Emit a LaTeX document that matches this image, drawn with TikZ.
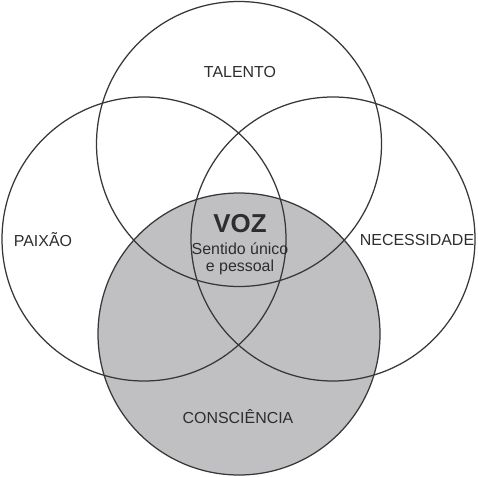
\documentclass[tikz,border=0pt]{standalone}
\usepackage{fontspec}
\setmainfont{Liberation Sans}
\definecolor{ringline}{RGB}{55,55,55}
\definecolor{ringfill}{RGB}{192,192,194}
\definecolor{txt}{RGB}{45,45,45}
\begin{document}
\begin{tikzpicture}[x=1bp,y=-1bp,
  ring/.style={draw=ringline,line width=1.25bp},
  lbl/.style={text=txt,inner sep=0pt,font=\fontsize{16}{17}\selectfont},
  big/.style={text=txt,inner sep=0pt,font=\fontsize{26}{28}\selectfont\bfseries}]
\useasboundingbox (0,0) rectangle (477,477);
\fill[white] (0,0) rectangle (477,477);
\coordinate (cT) at (239,144);
\coordinate (cL) at (144,239);
\coordinate (cR) at (333,239);
\coordinate (cB) at (239,334);
\fill[ringfill] (cB) circle[radius=141];
\draw[ring] (cT) circle[radius=142.5];
\draw[ring] (cL) circle[radius=142];
\draw[ring] (cR) circle[radius=142];
\draw[ring] (cB) circle[radius=141];
\node[lbl] (talento) at (240,72) {TALENTO};
\node[lbl] (paixao) at (43,240) {PAIXÃO};
\node[lbl] (nec) at (417,240) {NECESSIDADE};
\node[lbl] (cons) at (238,417) {CONSCIÊNCIA};
\node[big] (voz) at (240,224) {VOZ};
\node[lbl] (s1) at (240,249) {Sentido único};
\node[lbl] (s2) at (240,267) {e pessoal};
\end{tikzpicture}
\end{document}
